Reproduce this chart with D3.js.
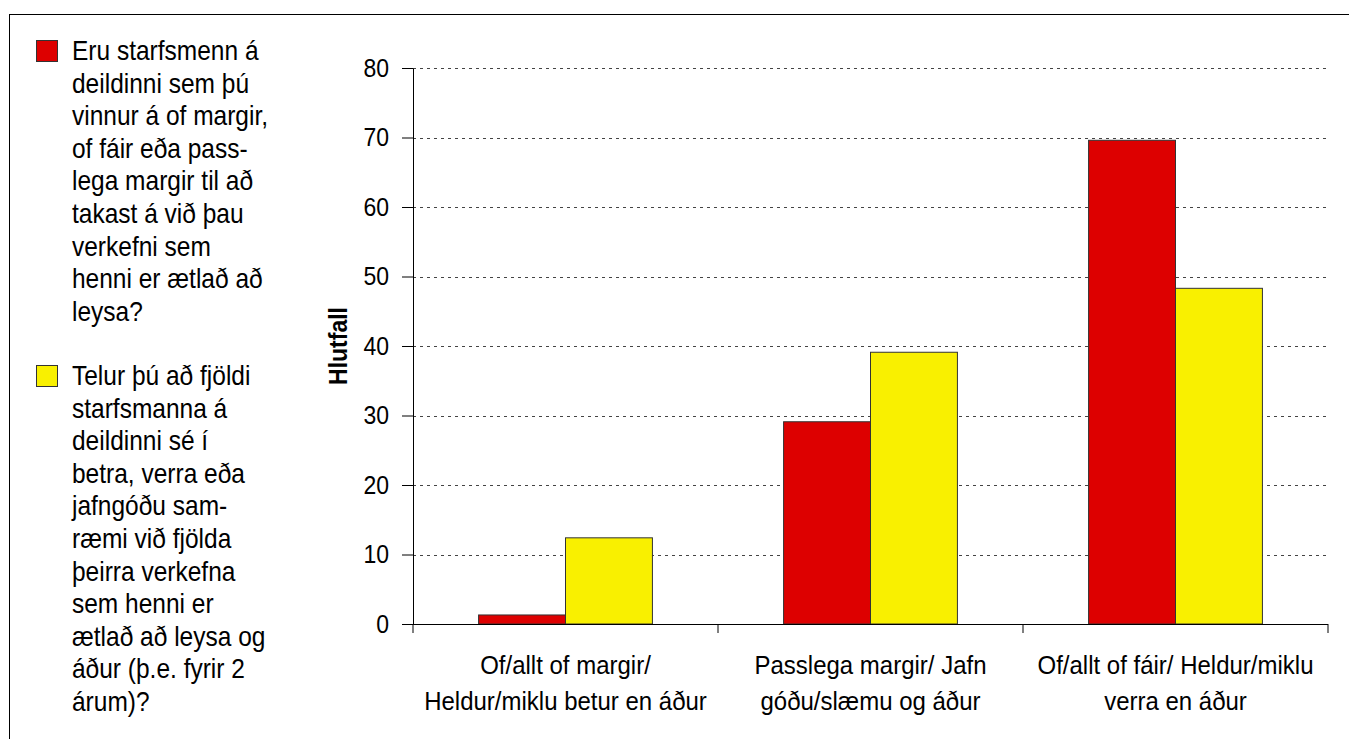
<!DOCTYPE html>
<html>
<head>
<meta charset="utf-8">
<script src="https://cdn.jsdelivr.net/npm/d3@7"></script>
<style>
  body { margin: 0; background: #fff; }
  svg text { font-family: "Liberation Sans", Arial, sans-serif; fill: #000; }
</style>
</head>
<body>
<div id="chart"></div>
<script>
// Data
const categories = [
    ["Of/allt of margir/", "Heldur/miklu betur en áður"],
    ["Passlega margir/ Jafn", "góðu/slæmu og áður"],
    ["Of/allt of fáir/ Heldur/miklu", "verra en áður"]
];
const seriesNames = ["staff", "trend"];
const staffValues = [1.3, 29.1, 69.6];   // red
const trendValues = [12.4, 39.1, 48.3];  // yellow
const yTicks = [0, 10, 20, 30, 40, 50, 60, 70, 80];
const legendLines = [
    ["Eru starfsmenn á", "deildinni sem þú", "vinnur á of margir,", "of fáir eða pass-",
     "lega margir til að", "takast á við þau", "verkefni sem", "henni er ætlað að", "leysa?"],
    ["Telur þú að fjöldi", "starfsmanna á", "deildinni sé í", "betra, verra eða",
     "jafngóðu sam-", "ræmi við fjölda", "þeirra verkefna", "sem henni er",
     "ætlað að leysa og", "áður (þ.e. fyrir 2", "árum)?"]
];
const colors = {staff: "#dd0000", trend: "#f9f000"};

const W = 1349, H = 739;
const margin = {top: 68, right: 21, bottom: 115, left: 413};
const width = W - margin.left - margin.right;
const height = H - margin.top - margin.bottom;
const stretch = 1.1; // text in the original is a bit taller than wide

const svg = d3.select("#chart").append("svg")
    .attr("width", W)
    .attr("height", H);

// outer frame
svg.append("rect")
    .attr("x", 9.5).attr("y", 14.5)
    .attr("width", W + 20).attr("height", H + 20)
    .attr("fill", "none")
    .attr("stroke", "#000")
    .attr("stroke-width", 1);

const g = svg.append("g").attr("transform", `translate(${margin.left},${margin.top})`);

const x0 = d3.scaleBand().domain(d3.range(categories.length)).range([0, width]);
const x1 = d3.scaleBand().domain(seriesNames).range([x0.bandwidth() * 0.215, x0.bandwidth() * 0.785]);
const y = d3.scaleLinear().domain([0, 80]).range([height, 0]);

// gridlines
g.selectAll("line.grid")
    .data(yTicks.filter(d => d > 0))
    .enter().append("line")
    .attr("class", "grid")
    .attr("x1", 0).attr("x2", width)
    .attr("y1", d => Math.round(y(d)) + 0.5)
    .attr("y2", d => Math.round(y(d)) + 0.5)
    .style("stroke", "#444")
    .style("stroke-dasharray", "3,4");

// bars
const rows = categories.map((c, i) => ({i, staff: staffValues[i], trend: trendValues[i]}));
const groups = g.selectAll("g.cat")
    .data(rows)
    .enter().append("g")
    .attr("class", "cat")
    .attr("transform", d => `translate(${x0(d.i)},0)`);

groups.selectAll("rect")
    .data(d => seriesNames.map(s => ({s, v: d[s]})))
    .enter().append("rect")
    .attr("x", d => x1(d.s))
    .attr("y", d => y(d.v))
    .attr("width", x1.bandwidth())
    .attr("height", d => height - y(d.v))
    .style("fill", d => colors[d.s])
    .style("stroke", "#333")
    .style("stroke-width", 1);

// y axis
const yAxis = g.append("g")
    .attr("class", "y-axis")
    .call(d3.axisLeft(y).tickValues(yTicks).tickSize(11).tickPadding(13).tickSizeOuter(0));
yAxis.select(".domain").attr("stroke", "#000");
yAxis.selectAll("text")
    .style("font-size", "23px")
    .attr("transform", `scale(1,${stretch})`);

// x axis
const xAxis = g.append("g")
    .attr("class", "x-axis")
    .attr("transform", `translate(0,${height})`);
xAxis.append("line")
    .attr("x1", 0).attr("x2", width)
    .attr("y1", 0.5).attr("y2", 0.5)
    .attr("stroke", "#000");
xAxis.selectAll("line.tick")
    .data(d3.range(categories.length + 1))
    .enter().append("line")
    .attr("class", "tick")
    .attr("x1", d => d === categories.length ? width : x0(d))
    .attr("x2", d => d === categories.length ? width : x0(d))
    .attr("y1", 0).attr("y2", 9)
    .attr("stroke", "#000");

categories.forEach((lines, i) => {
    lines.forEach((line, j) => {
        xAxis.append("text")
            .attr("class", "cat-label")
            .attr("text-anchor", "middle")
            .attr("transform", `translate(${x0(i) + x0.bandwidth() / 2},${50 + j * 36}) scale(1,${stretch})`)
            .style("font-size", "24px")
            .text(line);
    });
});

// y axis title
svg.append("text")
    .attr("transform", `translate(347,${margin.top + height / 2}) rotate(-90) scale(1,${stretch})`)
    .attr("text-anchor", "middle")
    .style("font-size", "23px")
    .style("font-weight", "bold")
    .text("Hlutfall");

// legend
const legendTop = [40, 365];
seriesNames.forEach((s, k) => {
    const lg = svg.append("g").attr("transform", `translate(36,${legendTop[k]})`);
    lg.append("rect")
        .attr("x", 0.5).attr("y", 0.5)
        .attr("width", 21).attr("height", 21)
        .style("fill", colors[s])
        .style("stroke", "#333");
    lg.selectAll("text")
        .data(legendLines[k])
        .enter().append("text")
        .attr("transform", (d, i) => `translate(36,${20 + i * 32.6}) scale(1,${stretch})`)
        .style("font-size", "24.5px")
        .text(d => d);
});
</script>
</body>
</html>
